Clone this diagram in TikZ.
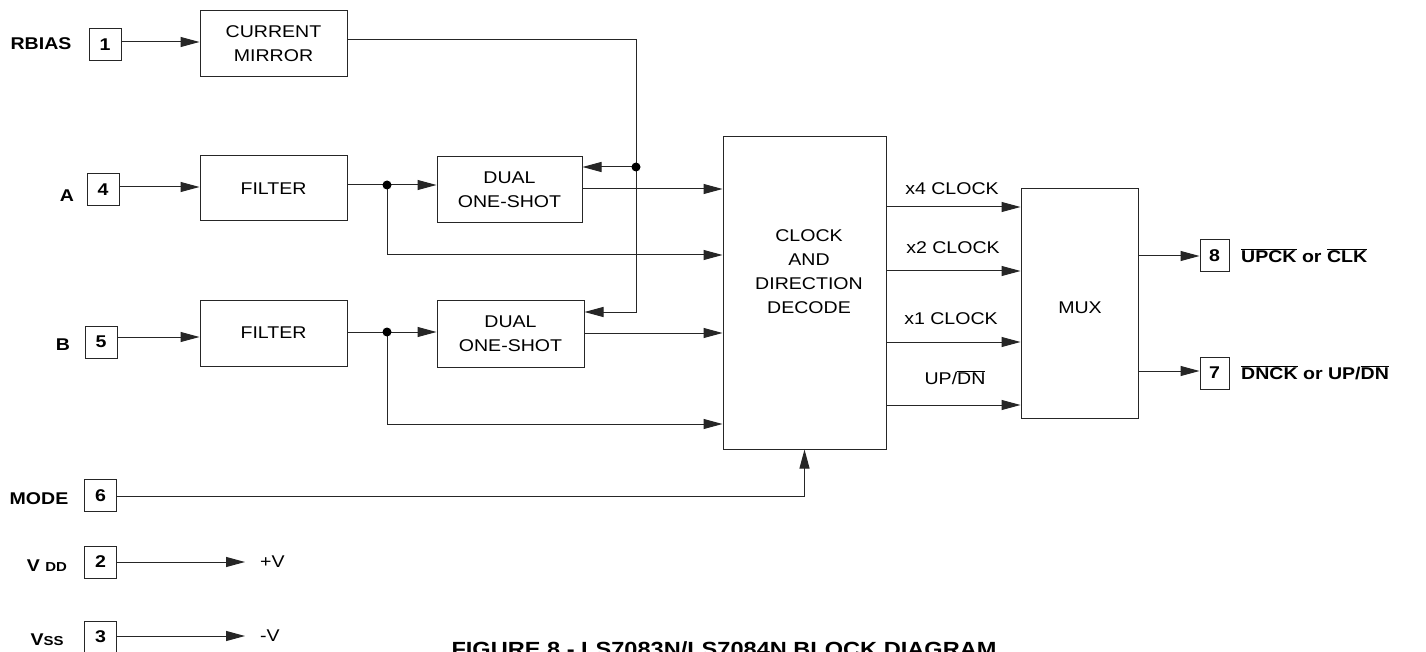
\documentclass[tikz,border=0pt]{standalone}
\usepackage{fontspec}
\setmainfont{Liberation Sans}[FakeStretch=1.15]
\usetikzlibrary{arrows.meta}
\begin{document}
\begin{tikzpicture}[x=1pt,y=-1pt,
  ln/.style={line width=1pt, draw=black!85},
  arr/.style={ln, -{Triangle[length=19pt,width=10pt]}},
  blk/.style={draw=black!85, line width=1pt, inner sep=0pt, align=center, font=\fontsize{17}{24}\selectfont},
  pin/.style={draw=black!85, line width=1pt, inner sep=0pt, minimum width=32pt, minimum height=32pt, font=\bfseries\fontsize{17}{20}\selectfont},
  lbl/.style={inner sep=0pt, font=\bfseries\fontsize{17}{20}\selectfont},
  txt/.style={inner sep=0pt, align=center, font=\fontsize{17}{24}\selectfont},
  dot/.style={fill=black}]
\fill[white] (0,0) rectangle (1426,652);
\useasboundingbox (0,0) rectangle (1426,652);

% blocks
\node[blk, minimum width=147pt, minimum height=66pt] (cm) at (273.5,44) {CURRENT\\MIRROR};
\node[blk, minimum width=147pt, minimum height=65pt] (fa) at (273.5,188.5) {FILTER};
\node[blk, minimum width=147pt, minimum height=66pt] (fb) at (273.5,333) {FILTER};
\node[blk, minimum width=145pt, minimum height=66pt] (da) at (509.5,190) {DUAL\\ONE-SHOT};
\node[blk, minimum width=147pt, minimum height=67pt] (db) at (510.5,333.5) {DUAL\\ONE-SHOT};
\node[blk, minimum width=163pt, minimum height=312pt] (dec) at (804.5,293) {};
\node[txt] (dectxt) at (809,272) {CLOCK\\AND\\DIRECTION\\DECODE};
\node[blk, minimum width=117pt, minimum height=229pt] (mux) at (1079.5,303.5) {};
\node[txt] (muxtxt) at (1080,308) {MUX};

% pins
\node[pin] (p1) at (105,45) {1};
\node[pin] (p4) at (103,189.5) {4};
\node[pin] (p5) at (101,342) {5};
\node[pin] (p6) at (100.5,495.5) {6};
\node[pin] (p2) at (100.5,562) {2};
\node[pin] (p3) at (100.5,637) {3};
\node[pin, minimum width=29pt] (p8) at (1214.5,256) {8};
\node[pin, minimum width=29pt] (p7) at (1214.5,373) {7};

% pin labels
\node[lbl] (lrb) at (41,44) {RBIAS};
\node[lbl] (la) at (67,196) {A};
\node[lbl] (lb) at (63,345) {B};
\node[lbl] (lmode) at (39,499) {MODE};
\node[lbl] (lvdd) at (47,566) {V {\fontsize{13}{13}\selectfont DD}};
\node[lbl] (lvss) at (47,640) {V{\fontsize{13}{13}\selectfont SS}};
\node[lbl, anchor=west] (l8) at (1241,256) {$\overline{\mbox{UPCK}}$ or $\overline{\mbox{CLK}}$};
\node[lbl, anchor=west] (l7) at (1241,373) {$\overline{\mbox{DNCK}}$ or UP/$\overline{\mbox{DN}}$};
\node[txt, anchor=west] (pv) at (260,562) {+V};
\node[txt, anchor=west] (mv) at (260,636) {-V};

% signal labels
\node[txt] (t4) at (952,189) {x4 CLOCK};
\node[txt] (t2) at (953,248) {x2 CLOCK};
\node[txt] (t1) at (951,319) {x1 CLOCK};
\node[txt] (tud) at (955,378) {UP/$\overline{\mbox{DN}}$};

% caption
\node[inner sep=0pt, anchor=north, font=\bfseries\fontsize{20.5}{24}\selectfont] (cap) at (724,641) {FIGURE 8 - LS7083N/LS7084N BLOCK DIAGRAM};

% connections
\coordinate (j) at (636,167);
\coordinate (dA) at (387,185);
\coordinate (dB) at (387,332);

\draw[arr] (p1.east |- 0,42) -- (cm.west |- 0,42);
\draw[ln] (cm.east |- 0,40) -| (j);
\draw[arr] (j) |- (db.east |- 0,312);
\draw[arr] (j) -- (da.east |- j);

\draw[arr] (p4.east |- 0,187) -- (fa.west |- 0,187);
\draw[ln] (fa.east |- dA) -- (dA);
\draw[arr] (dA) -- (da.west |- dA);
\draw[arr] (dA) |- (dec.west |- 0,255);
\draw[arr] (da.east |- 0,189) -- (dec.west |- 0,189);

\draw[arr] (p5.east |- 0,337) -- (fb.west |- 0,337);
\draw[ln] (fb.east |- dB) -- (dB);
\draw[arr] (dB) -- (db.west |- dB);
\draw[arr] (dB) |- (dec.west |- 0,424);
\draw[arr] (db.east |- 0,333) -- (dec.west |- 0,333);

\draw[arr] (dec.east |- 0,207) -- (mux.west |- 0,207);
\draw[arr] (dec.east |- 0,271) -- (mux.west |- 0,271);
\draw[arr] (dec.east |- 0,342) -- (mux.west |- 0,342);
\draw[arr] (dec.east |- 0,405) -- (mux.west |- 0,405);

\draw[arr] (mux.east |- 0,256) -- (p8.west |- 0,256);
\draw[arr] (mux.east |- 0,371) -- (p7.west |- 0,371);

\draw[arr] (p6.east |- 0,496) -| (dec.south);
\draw[arr] (p2.east) -- ([xshift=-15pt]pv.west);
\draw[arr] (p3.east |- mv.west) -- ([xshift=-15pt]mv.west);

\fill[dot] (j) circle[radius=4.5pt];
\fill[dot] (dA) circle[radius=4.5pt];
\fill[dot] (dB) circle[radius=4.5pt];
\end{tikzpicture}
\end{document}
